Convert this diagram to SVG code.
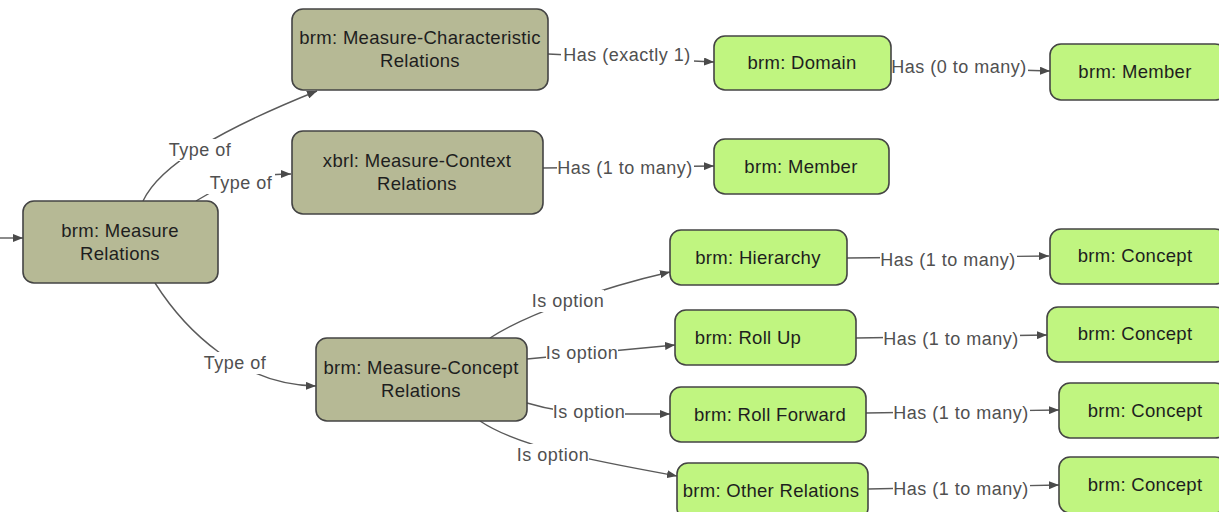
<svg xmlns="http://www.w3.org/2000/svg" width="1219" height="512" viewBox="0 0 1219 512">
  <style>
    .bg { fill: #ffffff; }
    .olive rect { fill: #b6b995; stroke: #444444; stroke-width: 1.6; }
    .green rect { fill: #c0f580; stroke: #444444; stroke-width: 1.6; }
    .node text { font-family: "Liberation Sans", Arial, sans-serif; font-size: 18.5px; letter-spacing: 0.3px; fill: #1e1e1e; text-anchor: middle; }
    .edge { fill: none; stroke: #5a5a5a; stroke-width: 1.4; marker-end: url(#arrow); }
    .lbl rect { fill: #ffffff; }
    .lbl text { font-family: "Liberation Sans", Arial, sans-serif; font-size: 18px; letter-spacing: 0.5px; fill: #505050; text-anchor: middle; }
  </style>
  <defs>
    <marker id="arrow" viewBox="0 0 10 8" refX="10" refY="4" markerWidth="10" markerHeight="8" markerUnits="userSpaceOnUse" orient="auto">
      <path d="M0,0 L10,4 L0,8 z" fill="#4a4a4a"/>
    </marker>
  </defs>
  <rect class="bg" x="0" y="0" width="1219" height="512"/>

  <!-- connectors -->
  <g id="connectors">
    <path class="edge" d="M0,238 L23,238"/>
    <path class="edge" d="M143,201 C160,165 220,130 317,91"/>
    <path class="edge" d="M196,201 C225,182 255,174 291,174"/>
    <path class="edge" d="M155,283 C185,330 240,385 316,386"/>
    <path class="edge" d="M548,54 L714,62"/>
    <path class="edge" d="M891,66 L1050,71"/>
    <path class="edge" d="M543,168 L714,166"/>
    <path class="edge" d="M490,338 C525,315 600,288 670,272"/>
    <path class="edge" d="M527,359 L675,345"/>
    <path class="edge" d="M527,403 Q560,413 600,414 L670,414"/>
    <path class="edge" d="M480,421 C520,448 600,462 677,476"/>
    <path class="edge" d="M847,258 L1049,256"/>
    <path class="edge" d="M856,338 L1047,335"/>
    <path class="edge" d="M866,413 L1059,410"/>
    <path class="edge" d="M868,489 L1059,485"/>

    <!-- connector labels -->
    <g class="lbl">
      <rect x="166" y="139" width="68" height="22"/><text x="200" y="156">Type of</text>
      <rect x="207" y="172" width="68" height="22"/><text x="241" y="189">Type of</text>
      <rect x="201" y="352" width="68" height="22"/><text x="235" y="369">Type of</text>
      <rect x="561" y="44" width="133" height="22"/><text x="627" y="61">Has (exactly 1)</text>
      <rect x="891" y="56" width="137" height="22"/><text x="959" y="73">Has (0 to many)</text>
      <rect x="557" y="157" width="137" height="22"/><text x="625" y="174">Has (1 to many)</text>
      <rect x="532" y="290" width="72" height="22"/><text x="568" y="307">Is option</text>
      <rect x="546" y="342" width="72" height="22"/><text x="582" y="359">Is option</text>
      <rect x="553" y="401" width="72" height="22"/><text x="589" y="418">Is option</text>
      <rect x="517" y="444" width="72" height="22"/><text x="553" y="461">Is option</text>
      <rect x="880" y="249" width="137" height="22"/><text x="948" y="266">Has (1 to many)</text>
      <rect x="883" y="328" width="137" height="22"/><text x="951" y="345">Has (1 to many)</text>
      <rect x="893" y="402" width="137" height="22"/><text x="961" y="419">Has (1 to many)</text>
      <rect x="893" y="478" width="137" height="22"/><text x="961" y="495">Has (1 to many)</text>
    </g>
  </g>

  <!-- olive relation nodes -->
  <g id="measure-relations" class="node olive">
    <rect x="23" y="201" width="195" height="82" rx="11"/>
    <text x="120" y="237">brm: Measure</text>
    <text x="120" y="260">Relations</text>
  </g>
  <g id="measure-characteristic-relations" class="node olive">
    <rect x="292" y="9" width="256" height="81" rx="11"/>
    <text x="420" y="44">brm: Measure-Characteristic</text>
    <text x="420" y="67">Relations</text>
  </g>
  <g id="measure-context-relations" class="node olive">
    <rect x="292" y="131" width="251" height="83" rx="11"/>
    <text x="417" y="167">xbrl: Measure-Context</text>
    <text x="417" y="190">Relations</text>
  </g>
  <g id="measure-concept-relations" class="node olive">
    <rect x="316" y="338" width="211" height="83" rx="11"/>
    <text x="421" y="374">brm: Measure-Concept</text>
    <text x="421" y="397">Relations</text>
  </g>

  <!-- green target nodes -->
  <g id="domain" class="node green">
    <rect x="714" y="36" width="177" height="54" rx="11"/>
    <text x="802" y="69">brm: Domain</text>
  </g>
  <g id="member-of-domain" class="node green">
    <rect x="1050" y="44" width="176" height="56" rx="11"/>
    <text x="1135" y="78">brm: Member</text>
  </g>
  <g id="member-of-context" class="node green">
    <rect x="714" y="139" width="175" height="55" rx="11"/>
    <text x="801" y="173">brm: Member</text>
  </g>
  <g id="hierarchy" class="node green">
    <rect x="670" y="230" width="177" height="55" rx="11"/>
    <text x="758" y="264">brm: Hierarchy</text>
  </g>
  <g id="roll-up" class="node green">
    <rect x="675" y="310" width="181" height="55" rx="11"/>
    <text x="748" y="344">brm: Roll Up</text>
  </g>
  <g id="roll-forward" class="node green">
    <rect x="670" y="387" width="196" height="55" rx="11"/>
    <text x="770" y="421">brm: Roll Forward</text>
  </g>
  <g id="other-relations" class="node green">
    <rect x="677" y="463" width="191" height="56" rx="11"/>
    <text x="771" y="497">brm: Other Relations</text>
  </g>
  <g id="concept-hierarchy" class="node green">
    <rect x="1050" y="229" width="176" height="55" rx="11"/>
    <text x="1135" y="262">brm: Concept</text>
  </g>
  <g id="concept-roll-up" class="node green">
    <rect x="1047" y="307" width="179" height="55" rx="11"/>
    <text x="1135" y="340">brm: Concept</text>
  </g>
  <g id="concept-roll-forward" class="node green">
    <rect x="1059" y="383" width="167" height="55" rx="11"/>
    <text x="1145" y="417">brm: Concept</text>
  </g>
  <g id="concept-other" class="node green">
    <rect x="1059" y="457" width="167" height="56" rx="11"/>
    <text x="1145" y="491">brm: Concept</text>
  </g>
</svg>
